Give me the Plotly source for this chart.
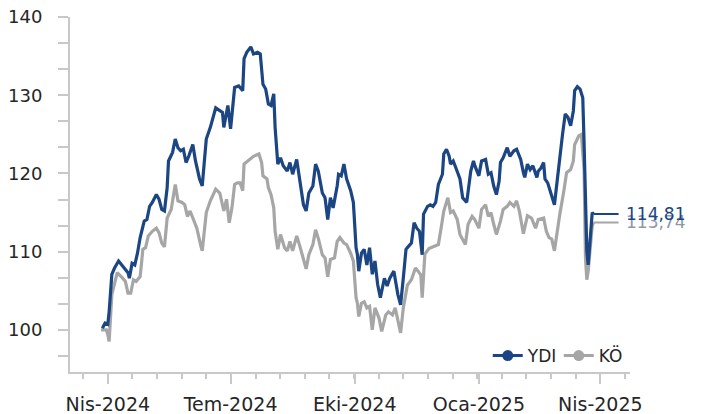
import pandas as pd
import plotly.graph_objects as go

# ---- data (days after 2024-04-01, index value) ----
start = "2024-04-01"

ydi_days = [-4, -2, 0, 1, 3, 5, 8, 11, 15, 16, 18, 20, 22, 24, 27, 29, 31, 33, 36, 38,
            40, 42, 44, 45, 48, 50, 52, 54, 56, 58, 60, 63, 65, 68, 70, 73, 76, 80, 82, 85,
            86, 89, 91, 92, 94, 97, 100, 101, 103, 106, 108, 111, 113, 115, 117, 119, 121, 123, 124, 126,
            128, 130, 133, 135, 137, 140, 142, 145, 147, 149, 152, 154, 156, 159, 161, 163, 165, 167, 170, 171,
            173, 175, 177, 180, 182, 184, 185, 186, 188, 190, 192, 194, 196, 198, 200, 202, 205, 207, 209, 212,
            215, 217, 219, 221, 223, 225, 227, 229, 231, 233, 234, 237, 239, 241, 243, 245, 248, 249, 251, 253,
            254, 256, 258, 261, 263, 266, 269, 271, 272, 275, 277, 280, 282, 284, 286, 288, 290, 291, 293, 296,
            298, 301, 303, 306, 308, 309, 311, 313, 315, 318, 319, 321, 323, 324, 326, 328, 330, 331, 333, 335,
            337, 339, 341, 343, 345, 346, 348, 350, 352, 353, 354, 355, 356, 358, 359, 360]
ydi_vals = [100.2, 100.85, 100.7, 102.3, 107.1, 107.9, 108.8, 108.1, 107.3, 106.6, 108.5, 108.3, 109.8, 111.8, 113.9, 114.1, 115.8, 116.3, 117.3, 116.7,
            115.4, 115.2, 118.2, 121.6, 122.7, 124.4, 123.3, 122.9, 123.1, 121.4, 122.2, 123.7, 121.6, 119.3, 118.4, 124.4, 125.9, 128.4, 128.2, 127.8,
            125.9, 128.7, 125.7, 127.4, 131.0, 131.2, 130.6, 134.7, 135.5, 136.2, 135.3, 135.5, 135.3, 131.4, 130.8, 128.9, 128.7, 130.2, 125.9, 121.2,
            122.0, 121.0, 120.3, 121.4, 119.9, 121.8, 119.5, 116.0, 115.2, 117.5, 118.4, 121.2, 120.3, 117.5, 116.9, 114.1, 116.9, 115.6, 118.4, 119.9,
            119.7, 121.2, 119.3, 117.8, 116.3, 110.5, 109.6, 107.5, 109.8, 110.3, 108.3, 110.5, 107.1, 108.8, 105.8, 104.1, 106.6, 105.6, 106.6, 107.5,
            104.5, 103.2, 106.6, 110.3, 110.7, 111.1, 113.7, 113.0, 112.6, 109.6, 114.8, 115.8, 116.0, 115.8, 116.3, 118.6, 119.9, 122.5, 123.1, 122.2,
            121.2, 121.6, 120.7, 119.3, 116.9, 116.3, 120.3, 121.6, 121.0, 119.7, 121.6, 121.8, 119.9, 120.1, 118.4, 117.3, 119.0, 121.4, 122.0, 123.3,
            122.2, 122.9, 123.1, 121.8, 120.1, 119.5, 121.2, 120.5, 121.0, 119.5, 120.3, 120.7, 121.4, 119.3, 118.8, 117.8, 116.7, 116.0, 119.0, 122.5,
            125.0, 127.6, 127.2, 126.1, 128.0, 130.6, 131.1, 130.8, 129.7, 123.7, 116.0, 110.1, 108.3, 113.5, 115.0, 114.81]

ko_days = [-5, -1, 0, 1, 3, 5, 7, 11, 13, 15, 17, 19, 21, 24, 26, 28, 30, 33, 36, 38,
           40, 42, 44, 47, 49, 50, 52, 55, 57, 59, 61, 64, 66, 69, 70, 73, 76, 80, 83, 86,
           88, 90, 92, 94, 96, 98, 100, 101, 105, 108, 112, 114, 115, 118, 119, 121, 123, 124, 126, 128,
           131, 133, 135, 137, 140, 142, 147, 149, 152, 154, 156, 159, 161, 163, 165, 168, 170, 172, 175, 177,
           180, 182, 184, 185, 186, 188, 190, 192, 194, 196, 198, 201, 203, 206, 208, 211, 213, 215, 217, 219,
           222, 225, 228, 230, 232, 233, 235, 238, 242, 245, 247, 249, 252, 254, 256, 259, 261, 265, 267, 270,
           272, 275, 277, 280, 282, 284, 286, 288, 291, 293, 296, 298, 301, 303, 305, 308, 311, 314, 317, 319,
           323, 325, 327, 329, 331, 333, 335, 338, 340, 343, 345, 346, 349, 351, 353, 354, 355, 356, 358, 359,
           360]
ko_vals = [100.0, 100.0, 99.4, 98.5, 104.5, 105.8, 107.3, 106.6, 106.2, 104.7, 104.7, 106.4, 106.2, 106.8, 110.3, 110.5, 112.0, 112.6, 113.0, 112.4,
           111.1, 110.6, 114.3, 115.4, 117.3, 118.6, 116.5, 116.3, 116.0, 114.5, 115.2, 113.9, 113.0, 110.7, 110.1, 115.0, 116.5, 118.0, 117.5, 115.2,
           116.7, 113.7, 115.6, 118.6, 118.8, 118.8, 117.8, 121.2, 121.8, 122.2, 122.5, 121.4, 119.7, 119.3, 118.2, 117.3, 115.6, 112.6, 110.3, 112.2,
           110.5, 110.1, 111.3, 110.1, 112.0, 110.9, 107.8, 109.6, 110.9, 112.8, 111.7, 109.6, 109.2, 106.8, 109.0, 109.2, 111.3, 111.8, 111.1, 110.9,
           109.8, 108.8, 104.1, 103.4, 101.7, 103.4, 103.6, 102.8, 103.0, 100.0, 102.8, 101.5, 99.8, 101.9, 102.3, 101.9, 102.8, 101.1, 99.6, 102.8,
           105.7, 106.4, 107.9, 107.5, 107.0, 104.1, 109.7, 110.4, 110.7, 110.9, 113.0, 115.2, 116.9, 115.0, 115.2, 114.1, 112.2, 110.9, 113.5, 114.5,
           114.1, 113.0, 115.4, 116.0, 114.5, 115.0, 113.5, 112.2, 113.9, 115.4, 115.8, 116.3, 115.8, 116.5, 115.2, 112.3, 114.6, 114.3, 113.0, 114.1,
           114.3, 112.6, 111.8, 111.6, 110.1, 112.6, 114.8, 117.8, 120.1, 120.5, 121.6, 123.7, 124.8, 125.0, 120.3, 109.2, 106.4, 107.5, 111.3, 113.3,
           113.74]

tick_dates = ["2024-04-01", "2024-07-01", "2024-10-01", "2025-01-01", "2025-04-01"]
tick_labels = ["Nis-2024", "Tem-2024", "Eki-2024", "Oca-2025", "Nis-2025"]

series_names = ["YDI", "KÖ"]
series_colors = ["#1b4583", "#a6a6a6"]
end_labels = ["114,81", "113,74"]

base = pd.Timestamp(start)
ydi_x = base + pd.to_timedelta(ydi_days, unit="D")
ko_x = base + pd.to_timedelta(ko_days, unit="D")

FONT = "DejaVu Sans"
fig = go.Figure()

series = [(ko_x, ko_vals, 1), (ydi_x, ydi_vals, 0)]
for xs, ys, i in series:
    fig.add_trace(go.Scatter(x=xs, y=ys, mode="lines", name=series_names[i],
                             line=dict(color=series_colors[i], width=3.2),
                             showlegend=False, hoverinfo="skip"))

# legend entries
for i in range(2):
    fig.add_trace(go.Scatter(x=[None], y=[None], mode="lines+markers", name=series_names[i],
                             line=dict(color=series_colors[i], width=3),
                             marker=dict(color=series_colors[i], size=11, symbol="circle")))

# end value labels
for xs, ys, i in series:
    fig.add_annotation(x=xs[-1], y=ys[-1], text=end_labels[i], showarrow=True,
                       arrowhead=0, arrowwidth=2, arrowcolor=series_colors[i],
                       ax=25, ay=0, xanchor="left", borderpad=6,
                       font=dict(family=FONT, size=17, color=series_colors[i] if i == 0 else "#8d97a8"))

axis_grey = "#c8c8c8"
fig.update_layout(
    width=704, height=414,
    margin=dict(l=70, r=74, t=17, b=42, autoexpand=False),
    paper_bgcolor="white", plot_bgcolor="white",
    font=dict(family=FONT, size=17, color="#262626"),
    showlegend=True,
    legend=dict(orientation="h", x=0.746, y=0.045, xanchor="left", yanchor="middle",
                font=dict(family=FONT, size=17, color="#262626"),
                bgcolor="rgba(0,0,0,0)", itemwidth=30, entrywidth=26, tracegroupgap=0),
    xaxis=dict(
        type="date", range=["2024-03-04", "2025-04-23"], automargin=False,
        showgrid=False, zeroline=False,
        showline=True, linecolor=axis_grey, linewidth=2,
        tickmode="array", tickvals=tick_dates, ticktext=tick_labels,
        ticks="outside", ticklen=10, tickwidth=2, tickcolor=axis_grey,
        ticklabelstandoff=4,
        tickfont=dict(family=FONT, size=19, color="#262626"),
        minor=dict(dtick=18.25 * 86400000, tick0="2024-04-01", ticks="outside",
                   ticklen=5, tickwidth=2, tickcolor=axis_grey, showgrid=False),
    ),
    yaxis=dict(
        range=[94.6, 140.02], automargin=False, showgrid=False, zeroline=False,
        showline=True, linecolor=axis_grey, linewidth=2,
        tick0=100, dtick=10,
        ticks="outside", ticklen=10, tickwidth=2, tickcolor=axis_grey,
        ticklabelstandoff=12,
        tickfont=dict(family=FONT, size=18, color="#262626"),
        minor=dict(dtick=10 / 3, tick0=100, ticks="outside",
                   ticklen=10, tickwidth=2, tickcolor=axis_grey, showgrid=False),
    ),
)

fig.write_html("out.html", config={"displayModeBar": False},
               post_script="document.body.style.margin='0';")
